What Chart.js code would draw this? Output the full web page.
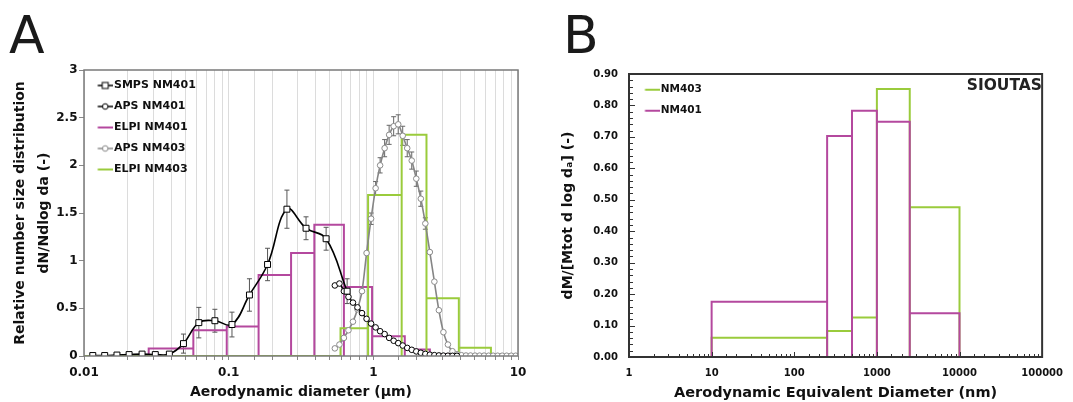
<!DOCTYPE html>
<html><head><meta charset="utf-8">
<script src="https://cdn.jsdelivr.net/npm/chart.js@4.4.1/dist/chart.umd.min.js"></script>
<style>
html,body{margin:0;padding:0;background:#fff;}
body{width:1073px;height:402px;position:relative;overflow:hidden;font-family:'DejaVu Sans',sans-serif;}
canvas{position:absolute;top:0;}
#ca{left:0;}
#cb{left:540px;}
.big{position:absolute;font-size:52px;line-height:52px;color:#1a1a1a;font-family:'DejaVu Sans',sans-serif;}
#sioutas{position:absolute;right:31px;top:78px;font-size:15.5px;line-height:15.5px;font-weight:bold;color:#222;font-family:'DejaVu Sans',sans-serif;}
</style></head><body>
<canvas id="ca" width="540" height="402"></canvas>
<canvas id="cb" width="533" height="402"></canvas>
<div class="big" style="left:9px;top:9px">A</div>
<div class="big" style="left:563px;top:9px">B</div>
<div id="sioutas">SIOUTAS</div>
<script>
// ---------- Panel A data ----------
const smpsDiam = [0.0115,0.0139,0.0169,0.0205,0.0252,0.0311,0.0389,0.0487,0.0622,0.0803,0.1054,0.1392,0.1857,0.2528,0.3426,0.4716,0.659];
const smpsVal  = [0.005,0.005,0.01,0.015,0.02,0.015,0.02,0.13,0.35,0.37,0.33,0.64,0.96,1.54,1.34,1.23,0.68];
const smpsErr  = [0,0,0,0,0,0,0,0.1,0.16,0.12,0.13,0.17,0.17,0.2,0.12,0.12,0.13];

const apsDiam = [0.542,0.583,0.626,0.673,0.723,0.777,0.835,0.898,0.965,1.037,1.114,1.197,1.286,1.382,1.486,1.596,1.715,1.843,1.981,2.129,2.288,2.458,2.642,2.839,3.051,3.278,3.523,3.786,4.068,4.371,4.698,5.048,5.425,5.829,6.264,6.732,7.234,7.774,8.354,8.977,9.647];
const aps401Val = [0.74,0.76,0.68,0.62,0.56,0.51,0.45,0.39,0.34,0.30,0.26,0.23,0.19,0.16,0.135,0.11,0.085,0.065,0.048,0.034,0.022,0.014,0.009,0.006,0.004,0.003,0.002,0.002];
const aps403Val = [0.08,0.12,0.19,0.27,0.36,0.49,0.68,1.08,1.44,1.76,2.0,2.18,2.32,2.41,2.43,2.31,2.18,2.05,1.86,1.65,1.39,1.09,0.78,0.48,0.25,0.12,0.05,0.018,0.008,0.005,0.005,0.004,0.004,0.004,0.003,0.003,0.003,0.003,0.003,0.003,0.003];
const aps403Err = [0,0,0,0,0,0,0,0,0.06,0.07,0.08,0.09,0.1,0.1,0.1,0.1,0.09,0.09,0.08,0.08,0.06];

const elpi401Edges = [0.028,0.057,0.097,0.161,0.27,0.391,0.626,0.98,1.65,2.46,3.67];
const elpi401Val   = [0.079,0.27,0.31,0.85,1.08,1.377,0.725,0.207,0.068,0.02];
const elpi403Edges = [0.01,0.593,0.92,1.57,2.33,3.9,6.5,10];
const elpi403Val   = [0,0.29,1.688,2.32,0.605,0.086,0.01];

const xTicksA = [0.01,0.1,1,10];

// ---------- Panel B data ----------
const edgesB = [10,250,500,1000,2500,10000];
const nm403B = [0.061,0.083,0.126,0.852,0.476];
const nm401B = [0.176,0.703,0.783,0.748,0.139];
const xTicksB = [1,10,100,1000,10000,100000];

// ---------- helpers ----------
const MAG = '#B4489E', GRN = '#9ACB3C';
Chart.defaults.font.family = "'DejaVu Sans', sans-serif";
Chart.defaults.font.weight = 'bold';
Chart.defaults.color = '#111';

function pts(xs, ys){ return ys.map((y,i)=>({x:xs[i], y:y})); }
function outline(edges, vals){
  const p=[{x:edges[0],y:0}];
  for(let i=0;i<vals.length;i++){ p.push({x:edges[i],y:vals[i]},{x:edges[i+1],y:vals[i]},{x:edges[i+1],y:0}); }
  return p;
}
function isDecade(v){ const l=Math.log10(v); return Math.abs(l-Math.round(l))<1e-6; }
function icon(w, lineFrom, color, lw, marker, mColor, mx){
  const c=document.createElement('canvas'); c.width=w; c.height=10;
  const g=c.getContext('2d');
  g.strokeStyle=color; g.lineWidth=lw; g.beginPath(); g.moveTo(lineFrom,5); g.lineTo(w,5); g.stroke();
  if(marker==='rect'){ g.fillStyle='#fff'; g.fillRect(mx-3,2,6,6); g.strokeStyle=mColor; g.lineWidth=1; g.strokeRect(mx-3,2,6,6); }
  if(marker==='circle'){ g.beginPath(); g.arc(mx,5,2.8,0,Math.PI*2); g.fillStyle='#fff'; g.fill(); g.strokeStyle=mColor; g.lineWidth=1; g.stroke(); }
  return c;
}
function legendGen(icons){
  return function(chart){
    return chart.data.datasets.map((ds,i)=>({text:ds.label, pointStyle:icons[i], datasetIndex:i, fillStyle:'transparent', strokeStyle:'transparent', lineWidth:0, fontColor:'#111', hidden:false}));
  };
}
const legendPos = {
  id:'legendPos',
  afterLayout(chart){ const l=chart.legend, a=chart.chartArea; if(!l) return; l.top=a.top; l.bottom=a.bottom; l.left=a.left; l.right=a.right; l.adjustHitBoxes && l.adjustHitBoxes(); },
  beforeDraw(chart){ const l=chart.legend, a=chart.chartArea; if(!l) return; l.top=a.top; l.bottom=a.bottom; l.left=a.left; l.right=a.right; }
};
const errorBars = {
  id:'errorBars',
  beforeDatasetsDraw(chart){
    const {ctx, chartArea:a, scales:{x,y}} = chart;
    ctx.save(); ctx.beginPath(); ctx.rect(a.left,a.top,a.right-a.left,a.bottom-a.top); ctx.clip();
    chart.data.datasets.forEach(ds=>{
      if(!ds.errorBars) return;
      ctx.strokeStyle = ds.errorColor || '#555'; ctx.lineWidth=1;
      ds.data.forEach((p,j)=>{
        const e=ds.errorBars[j]; if(!e) return;
        const px=x.getPixelForValue(p.x), t=y.getPixelForValue(p.y+e), b=y.getPixelForValue(p.y-e);
        ctx.beginPath(); ctx.moveTo(px,t); ctx.lineTo(px,b);
        ctx.moveTo(px-2.5,t); ctx.lineTo(px+2.5,t); ctx.moveTo(px-2.5,b); ctx.lineTo(px+2.5,b); ctx.stroke();
      });
    });
    ctx.restore();
  }
};
function frame(color, lw){
  return {id:'frame', afterDraw(chart){ const {ctx, chartArea:a}=chart; ctx.save(); ctx.strokeStyle=color; ctx.lineWidth=lw; ctx.strokeRect(a.left,a.top,a.right-a.left,a.bottom-a.top); ctx.restore(); }};
}
const innerTicks = {
  id:'innerTicks',
  afterDraw(chart){
    const {ctx, chartArea:a, scales:{x,y}} = chart;
    ctx.save(); ctx.strokeStyle='#333'; ctx.lineWidth=1; ctx.beginPath();
    x.ticks.forEach(t=>{ const px=Math.round(x.getPixelForValue(t.value))+0.5; const L=isDecade(t.value)?5:3; ctx.moveTo(px,a.bottom); ctx.lineTo(px,a.bottom-L); });
    y.ticks.forEach(t=>{ const py=Math.round(y.getPixelForValue(t.value))+0.5; const m=Math.abs(t.value*10-Math.round(t.value*10))<1e-6; const L=m?6:4; ctx.moveTo(a.left,py); ctx.lineTo(a.left+L,py); });
    ctx.stroke(); ctx.restore();
  }
};

// ---------- Chart A ----------
const iconsA = [
  icon(24,8.5,'#000',1.5,'rect','#000',16),
  icon(24,8.5,'#000',1.5,'circle','#000',16),
  icon(24,8.5,MAG,2,null),
  icon(24,8.5,'#8a8a8a',1.5,'circle','#8a8a8a',16),
  icon(24,8.5,GRN,2,null)
];
new Chart(document.getElementById('ca'), {
  type:'line',
  data:{datasets:[
    {label:'SMPS NM401', data:pts(smpsDiam,smpsVal), borderColor:'#000', borderWidth:1.6, tension:0.4, pointStyle:'rect', pointRadius:4.2, pointBackgroundColor:'#fff', pointBorderColor:'#000', pointBorderWidth:1, errorBars:smpsErr, errorColor:'#555', order:0},
    {label:'APS NM401', data:pts(apsDiam,aps401Val), borderColor:'#000', borderWidth:1.6, tension:0.4, pointStyle:'circle', pointRadius:2.8, pointBackgroundColor:'#fff', pointBorderColor:'#000', pointBorderWidth:1, order:1},
    {label:'ELPI NM401', data:outline(elpi401Edges,elpi401Val), borderColor:MAG, borderWidth:2, pointRadius:0, tension:0, order:4},
    {label:'APS NM403', data:pts(apsDiam,aps403Val), borderColor:'#858585', borderWidth:1.6, tension:0.3, pointStyle:'circle', pointRadius:2.8, pointBackgroundColor:'#fff', pointBorderColor:'#8a8a8a', pointBorderWidth:1, errorBars:aps403Err, errorColor:'#666', order:2},
    {label:'ELPI NM403', data:outline(elpi403Edges,elpi403Val), borderColor:GRN, borderWidth:2, pointRadius:0, tension:0, order:3}
  ]},
  options:{
    responsive:false, animation:false, events:[],
    layout:{padding:{left:0,top:70,right:22,bottom:0}},
    plugins:{
      tooltip:{enabled:false},
      legend:{position:'chartArea', align:'start', labels:{generateLabels:legendGen(iconsA), usePointStyle:true, pointStyleWidth:14.5, padding:10, color:'#111', font:{size:11, weight:'bold'}, sort:(a,b)=>a.datasetIndex-b.datasetIndex}}
    },
    scales:{
      x:{type:'logarithmic', min:xTicksA[0], max:xTicksA[xTicksA.length-1],
        afterFit:s=>{s.height=46;},
        border:{display:false},
        grid:{color:'#dcdcdc', lineWidth:1, tickColor:'#888', tickLength:4},
        ticks:{autoSkip:false, maxRotation:0, minRotation:0, padding:6, color:'#111', font:{size:12, weight:'bold'},
          callback:(v)=> xTicksA.some(t=>Math.abs(t-v)<1e-9*Math.max(1,t)) ? String(v) : ''},
        title:{display:true, text:'Aerodynamic diameter (µm)', color:'#111', font:{size:14, weight:'bold'}, padding:{top:0,bottom:1}}
      },
      y:{min:0, max:3,
        afterFit:s=>{s.width=84;},
        border:{display:false},
        grid:{drawOnChartArea:false, tickLength:5, tickColor:'#888'},
        ticks:{stepSize:0.5, padding:1.5, color:'#111', font:{size:12, weight:'bold'}, callback:(v)=>String(Math.round(v*10)/10)},
        title:{display:true, text:['Relative number size distribution','dN/Ndlog da (-)'], color:'#111', font:{size:14, weight:'bold', lineHeight:1.71}, padding:{top:8,bottom:0}}
      }
    }
  },
  plugins:[legendPos, errorBars, frame('#7a7a7a',1.5)]
});

// ---------- Chart B ----------
const iconsB = [ icon(24,9.5,GRN,2,null), icon(24,9.5,MAG,2,null) ];
new Chart(document.getElementById('cb'), {
  type:'line',
  data:{datasets:[
    {label:'NM403', data:outline(edgesB,nm403B), borderColor:GRN, borderWidth:2, pointRadius:0, tension:0, order:1},
    {label:'NM401', data:outline(edgesB,nm401B), borderColor:MAG, borderWidth:2, pointRadius:0, tension:0, order:0}
  ]},
  options:{
    responsive:false, animation:false, events:[],
    layout:{padding:{left:0,top:74,right:25,bottom:0}},
    plugins:{
      tooltip:{enabled:false},
      legend:{position:'chartArea', align:'start', labels:{generateLabels:legendGen(iconsB), usePointStyle:true, pointStyleWidth:16, padding:10.5, color:'#111', font:{size:10.5, weight:'bold'}, sort:(a,b)=>a.datasetIndex-b.datasetIndex}}
    },
    scales:{
      x:{type:'logarithmic', min:xTicksB[0], max:xTicksB[xTicksB.length-1],
        afterFit:s=>{s.height=45;},
        border:{display:false},
        grid:{display:false, drawTicks:false},
        ticks:{autoSkip:false, maxRotation:0, minRotation:0, padding:10, color:'#111', font:{size:10, weight:'bold'},
          callback:(v)=> xTicksB.some(t=>Math.abs(t-v)<1e-9*t) ? String(v) : ''},
        title:{display:true, text:'Aerodynamic Equivalent Diameter (nm)', color:'#111', font:{size:14.5, weight:'bold'}, padding:{top:0,bottom:0}}
      },
      y:{min:0, max:0.9,
        afterFit:s=>{s.width=89;},
        border:{display:false},
        grid:{display:false, drawTicks:false},
        ticks:{stepSize:0.02, autoSkip:false, padding:11, color:'#111', font:{size:10, weight:'bold'},
          callback:(v)=> Math.abs(v*10-Math.round(v*10))<1e-6 ? v.toFixed(2) : ''},
        title:{display:true, text:'dM/[Mtot d log dₐ] (-)', color:'#111', font:{size:14, weight:'bold'}, padding:{top:20,bottom:0}}
      }
    }
  },
  plugins:[legendPos, innerTicks, frame('#333',2)]
});
</script>
</body></html>
